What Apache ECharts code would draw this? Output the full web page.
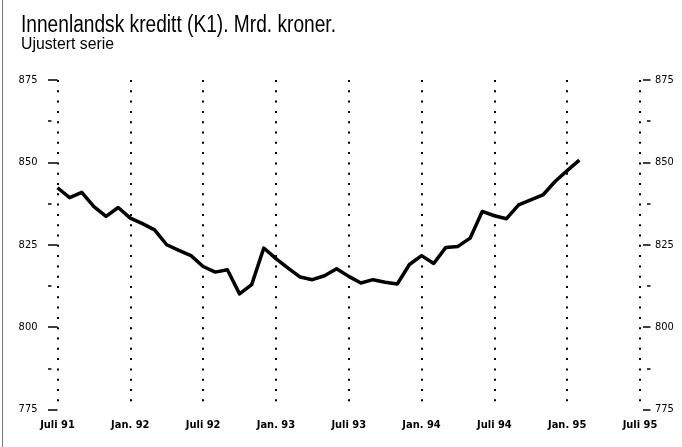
<!DOCTYPE html>
<html>
<head>
<meta charset="utf-8">
<script src="https://cdn.jsdelivr.net/npm/echarts@6/dist/echarts.min.js"></script>
<style>
html,body{margin:0;padding:0;background:#fff;}
#c{width:682px;height:447px;}
</style>
</head>
<body>
<div id="c"></div>
<script>
const titleText = 'Innenlandsk kreditt (K1). Mrd. kroner.';
const subtitleText = 'Ujustert serie';
// monthly observations, Juli 1991 .. Feb 1995
const months = ['1991-07','1991-08','1991-09','1991-10','1991-11','1991-12',
  '1992-01','1992-02','1992-03','1992-04','1992-05','1992-06',
  '1992-07','1992-08','1992-09','1992-10','1992-11','1992-12',
  '1993-01','1993-02','1993-03','1993-04','1993-05','1993-06',
  '1993-07','1993-08','1993-09','1993-10','1993-11','1993-12',
  '1994-01','1994-02','1994-03','1994-04','1994-05','1994-06',
  '1994-07','1994-08','1994-09','1994-10','1994-11','1994-12',
  '1995-01','1995-02'];
const credit = [842.3,839.3,840.9,836.6,833.6,836.3,
  833.1,831.4,829.5,825.0,823.3,821.7,
  818.4,816.7,817.4,810.1,812.9,824.0,
  820.8,817.9,815.2,814.4,815.6,817.7,
  815.4,813.4,814.4,813.6,813.1,819.0,
  821.7,819.3,824.2,824.5,827.0,835.1,
  833.8,832.9,837.1,838.6,840.1,844.2,
  847.5,850.7];
const xTickLabels = ['Juli 91','Jan. 92','Juli 92','Jan. 93','Juli 93','Jan. 94','Juli 94','Jan. 95','Juli 95'];
const yMin = 775, yMax = 875, yStep = 25;

const FONT = '"DejaVu Sans Condensed","Liberation Sans",sans-serif';
const TFONT = '"Liberation Sans",Arial,sans-serif';

// horizontal compression factor to imitate a condensed typeface
function squeeze(text, font, target) {
  const ctx = document.createElement('canvas').getContext('2d');
  ctx.font = font;
  const w = ctx.measureText(text).width;
  return w > 0 ? target / w : 1;
}
const titleFont = '23px ' + TFONT;
const subFont = '16px ' + TFONT;
const titleScale = squeeze(titleText, titleFont, 315);
const subScale = squeeze(subtitleText, subFont, 93);

const chart = echarts.init(document.getElementById('c'));
const seriesData = credit.map((v, i) => [i, v]);

function yAx(pos, offset, len, showLabel, interval, margin) {
  return {
    type: 'value', position: pos, offset: offset, min: yMin, max: yMax, interval: interval,
    axisLine: {show: false},
    axisTick: {show: true, length: len, lineStyle: {color: '#000', width: 1.5}},
    axisLabel: {show: showLabel, margin: margin, color: '#000', fontSize: 11, fontFamily: FONT},
    splitLine: {show: false}
  };
}

chart.setOption({
  animation: false,
  backgroundColor: '#fff',
  grid: {left: 57.5, right: 42, top: 80, bottom: 37.5},
  xAxis: {
    type: 'value', min: 0, max: 48, interval: 6,
    axisLine: {show: false}, axisTick: {show: false},
    axisLabel: {
      color: '#000', fontSize: 11, fontWeight: 'bold', fontFamily: FONT, margin: 10,
      formatter: v => xTickLabels[Math.round(v / 6)] || ''
    },
    splitLine: {show: true, lineStyle: {color: '#000', width: 2, type: [2, 8.3]}}
  },
  yAxis: [
    yAx('left', 2, 7, true, yStep, 18),
    yAx('right', 3, 7, true, yStep, 12),
    yAx('left', 6, 3.5, false, yStep / 2, 8),
    yAx('right', 7, 3.5, false, yStep / 2, 8)
  ],
  series: [{
    type: 'line', data: seriesData, showSymbol: false, symbol: 'none',
    lineStyle: {color: '#000', width: 3.5, join: 'round'}
  }],
  graphic: [
    {type: 'line', shape: {x1: 2.5, y1: 0, x2: 2.5, y2: 447}, style: {stroke: '#777', lineWidth: 1}},
    {type: 'text', x: 21, y: 14, scaleX: titleScale,
     style: {text: titleText, font: titleFont, fill: '#000', x: 0, y: 0, align: 'left', verticalAlign: 'top'}},
    {type: 'text', x: 21, y: 37, scaleX: subScale,
     style: {text: subtitleText, font: subFont, fill: '#000', x: 0, y: 0, align: 'left', verticalAlign: 'top'}}
  ]
});
</script>
</body>
</html>
